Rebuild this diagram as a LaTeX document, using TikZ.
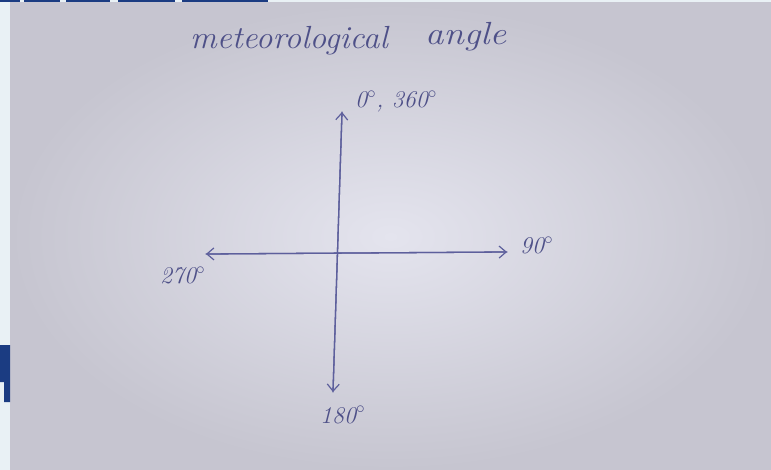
\documentclass[tikz,border=0pt]{standalone}
\usetikzlibrary{arrows.meta}
\definecolor{slide}{HTML}{E9F1F5}
\definecolor{navy}{HTML}{1B3C82}
\definecolor{paperin}{HTML}{E4E4EE}
\definecolor{paperout}{HTML}{C6C5D0}
\definecolor{ink}{HTML}{5D5F9C}
\definecolor{textink}{HTML}{4E5088}
\tikzset{
  axis/.style={draw=ink, line width=1.3pt, line cap=round,
    -{Straight Barb[length=7pt,width=12pt,line width=1.2pt]}},
  hand/.style={text=textink, font=\fontsize{32}{34}\selectfont\itshape, inner sep=0pt},
  handsmall/.style={text=textink, font=\fontsize{24}{26}\selectfont\itshape, inner sep=0pt},
}
\begin{document}
\begin{tikzpicture}[x=1pt,y=-1pt]
\useasboundingbox (0,0) rectangle (771,470);
% slide background
\fill[slide] (0,0) rectangle (771,470);
% paper
\shade[inner color=paperin, outer color=paperout] (10,3) rectangle (771,470);
% slide fragments (navy)
\fill[navy] (0,0) rectangle (20,2.5);
\fill[navy] (24,0) rectangle (60,2.5);
\fill[navy] (66,0) rectangle (110,2.5);
\fill[navy] (118,0) rectangle (175,2.5);
\fill[navy] (182,0) rectangle (268,2.5);
\fill[navy] (0,345) -- (10,345) -- (10,402) -- (4,402) -- (4,382) -- (0,382) -- cycle;
% axes
\coordinate (c) at (337,254);
\coordinate (top) at (342,112);
\coordinate (bot) at (333,392);
\coordinate (left) at (206,254);
\coordinate (right) at (507,252);
\draw[axis] (bot) -- (top);
\draw[axis] (top) -- (bot);
\draw[axis] (right) -- (left);
\draw[axis] (left) -- (right);
% labels
\node[hand, anchor=base west, xscale=1.04] (title) at (190,49) {meteorological};
\node[hand, anchor=base west, xscale=1.15] (title2) at (425,45) {angle};
\node[handsmall, anchor=base west] (n) at (355,108) {0$^{\circ}$, 360$^{\circ}$};
\node[handsmall, anchor=base west] (e) at (520,254) {90$^{\circ}$};
\node[handsmall, anchor=base west] (w) at (160,284) {270$^{\circ}$};
\node[handsmall, anchor=base west] (s) at (320,423) {180$^{\circ}$};
\end{tikzpicture}
\end{document}
